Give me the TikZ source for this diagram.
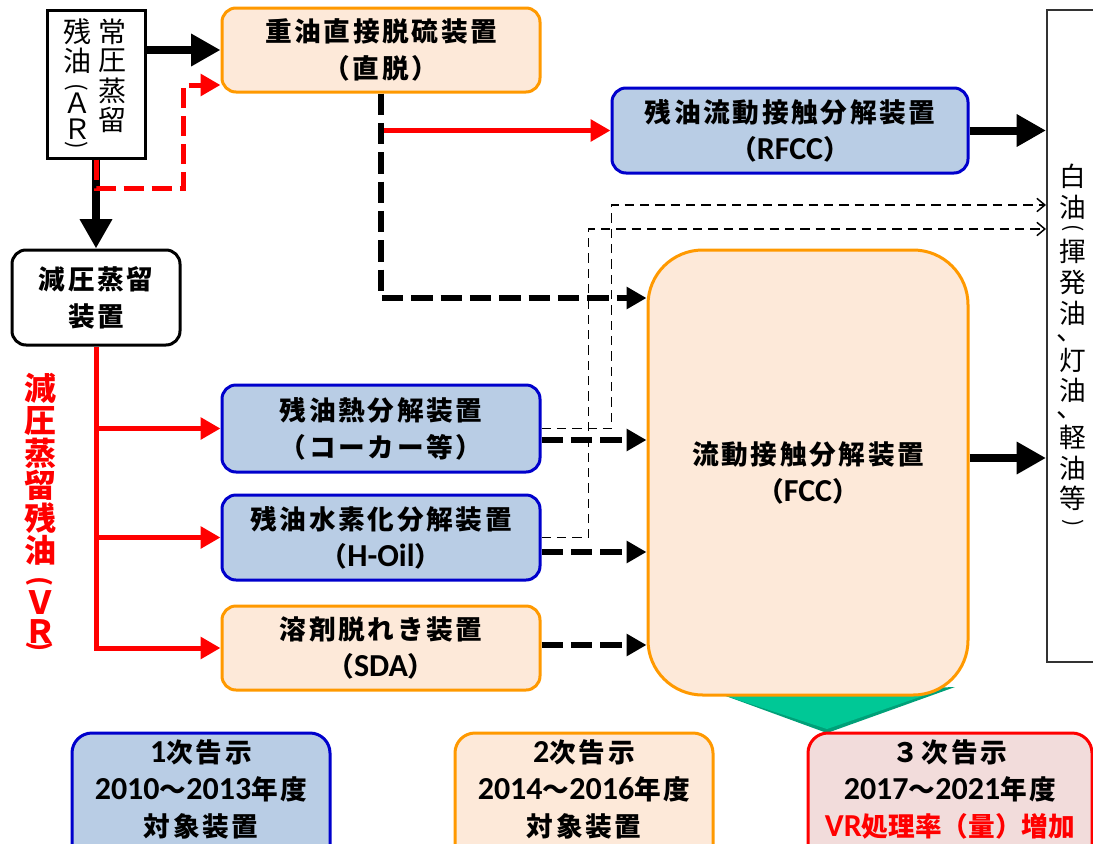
\documentclass[tikz,border=0pt]{standalone}
\usepackage{fontspec}
\setmainfont{Noto Sans CJK JP}
\newfontfamily\jpb{Noto Sans CJK JP}[LetterSpace=10]
\newfontfamily\jpr{Noto Sans CJK JP}
\newfontfamily\lat{Carlito}
\newcommand\Lt[1]{{\lat\fontsize{24}{27.75}\selectfont #1}}
\usetikzlibrary{arrows.meta}
\definecolor{peach}{HTML}{FDE9D9}
\definecolor{orng}{HTML}{FF9900}
\definecolor{bluef}{HTML}{B9CDE5}
\definecolor{blueb}{HTML}{0000CC}
\definecolor{pinkf}{HTML}{F2DCDB}
\definecolor{grn}{HTML}{00C896}
\definecolor{grnd}{HTML}{00A078}
\tikzset{
  unit/.style={draw, line width=2.25pt, rounded corners=10.5pt, align=center, inner sep=0pt,
    font=\jpb\bfseries\fontsize{20}{27.75}\selectfont},
  bluebox/.style={unit, draw=blueb, fill=bluef},
  peachbox/.style={unit, draw=orng, fill=peach},
  legtext/.style={align=center, inner sep=0pt, font=\jpb\bfseries\fontsize{20}{27.75}\selectfont},
  vt/.style={inner sep=0pt, font=\jpr\fontsize{21}{21}\selectfont},
  vtp/.style={inner sep=0pt, rotate=-90, font=\jpr\fontsize{17}{17}\selectfont},
  vtred/.style={inner sep=0pt, text=red, font=\jpr\bfseries\fontsize{24}{24}\selectfont},
  vtredp/.style={inner sep=0pt, rotate=-90, text=red, font=\jpr\bfseries\fontsize{19}{19}\selectfont},
  vtwo/.style={inner sep=0pt, font=\jpr\fontsize{20}{20}\selectfont},
  vtwop/.style={inner sep=0pt, rotate=-90, font=\jpr\fontsize{16}{16}\selectfont},
  blk/.style={line width=6pt, -{Triangle[length=22pt,width=23pt]}},
  redarr/.style={draw=red, line width=3.75pt, -{Triangle[length=15pt,width=16pt]}},
  reddash/.style={draw=red, line width=3.75pt, dash pattern=on 15pt off 6pt, -{Triangle[length=15pt,width=16pt]}},
  bdash/.style={line width=5pt, dash pattern=on 16pt off 6pt, -{Triangle[length=15pt,width=16pt]}},
  tdash/.style={line width=1.1pt, dash pattern=on 7pt off 4.5pt, -{Straight Barb[length=6pt,width=10pt]}}
}
\begin{document}
\begin{tikzpicture}[x=0.75pt,y=-0.75pt]
\useasboundingbox (0,0) rectangle (1093,843);
\clip (0,0) rectangle (1093,843);

% green chevron behind FCC
\fill[grnd] (723,695) -- (955,687) -- (827,733) -- cycle;
\fill[grn] (723,695) -- (940,690) -- (827,729) -- cycle;

% boxes
\node[draw, line width=2.25pt, fill=white, minimum width=73.5pt, minimum height=111pt] (AR) at (96,84) {};
\node[peachbox, minimum width=238.5pt, minimum height=63pt] (CD) at (381,50) {重油直接脱硫装置\\（直脱）};
\node[bluebox, minimum width=267pt, minimum height=63.75pt] (RF) at (790,130.5) {残油流動接触分解装置\\（\Lt{RFCC}）};
\node[unit, fill=white, minimum width=126pt, minimum height=71.25pt] (GA) at (96,297.5) {減圧蒸留\\装置};
\node[bluebox, minimum width=238.5pt, minimum height=65.25pt] (CK) at (381,428.5) {残油熱分解装置\\（コーカー等）};
\node[bluebox, minimum width=238.5pt, minimum height=63.75pt] (HO) at (381,537.5) {残油水素化分解装置\\（\Lt{H-Oil}）};
\node[peachbox, minimum width=238.5pt, minimum height=63pt] (SD) at (381,648) {溶剤脱れき装置\\（\Lt{SDA}）};
\node[peachbox, rounded corners=41pt, minimum width=240pt, minimum height=333.75pt] (FC) at (808,472.5) {流動接触分解装置\\（\Lt{FCC}）};
\node[draw=black!80, line width=1.5pt, fill=white, minimum width=54.75pt, minimum height=489pt] (WO) at (1083.5,336) {};

% legend boxes
\node[bluebox, rounded corners=15pt, minimum width=193.5pt, minimum height=102.75pt] (L1) at (201,801.5) {};
\node[peachbox, rounded corners=15pt, minimum width=193.5pt, minimum height=102.75pt] (L2) at (584,801.5) {};
\node[unit, draw=red, fill=pinkf, rounded corners=15pt, minimum width=213pt, minimum height=102.75pt] (L3) at (950,801.5) {};
\node[legtext] (L1t) at (201,789) {\Lt{1}次告示\\\Lt{2010}〜\Lt{2013}年度\\対象装置};
\node[legtext] (L2t) at (584,789) {\Lt{2}次告示\\\Lt{2014}〜\Lt{2016}年度\\対象装置};
\node[legtext] (L3t) at (950,789) {３次告示\\\Lt{2017}〜\Lt{2021}年度\\\textcolor{red}{\jpr\bfseries\Lt{VR}処理率（量）増加}};

% vertical texts
\foreach \c/\y [count=\i] in {常/32,圧/61,蒸/91,留/120}
  \node[vt] (arR\i) at (112,\y) {\c};
\foreach \c/\y [count=\i] in {残/32,油/61,Ａ/103,Ｒ/129}
  \node[vt] (arL\i) at (77,\y) {\c};
\node[vtp] (arLo) at (77,87) {(};
\node[vtp] (arLc) at (77,145) {)};

\foreach \c/\y [count=\i] in {減/388,圧/421,蒸/453,留/485,残/518,油/550,Ｖ/603,Ｒ/632}
  \node[vtred] (vr\i) at (40,\y) {\c};
\node[vtredp] (vro) at (40,582) {(};
\node[vtredp] (vrc) at (40,647) {)};

\foreach \c/\y [count=\i] in {白/176,油/207,揮/251,発/282,油/313,灯/360,油/390,軽/437,油/468,等/498}
  \node[vtwo] (wo\i) at (1073,\y) {\c};
\node[vtwo] (woc1) at (1070,338) {、};
\node[vtwo] (woc2) at (1070,415) {、};
\node[vtwop] (woo) at (1073,228) {(};
\node[vtwop] (woe) at (1073,523) {)};

% helper coordinates
\coordinate (cR1) at (183,188);
\path (FC.west) ++(0,-174.5) coordinate (f1);
\path (FC.east) ++(0,-14.5) coordinate (f2);
\path (CK.east) ++(0,11.5) coordinate (c1);
\path (HO.east) ++(0,14.5) coordinate (h1);
\path (SD.east) ++(0,-3) coordinate (s1);
\path (WO.west) ++(0,-131) coordinate (w1);
\path (WO.west) ++(0,-107) coordinate (w2);

% connectors
\draw[blk] (AR.east |- CD.west) -- (CD.west);
\draw[blk] (AR.south) -- (GA.north);
\draw[reddash] (AR.south) |- (cR1) |- ([yshift=-26.25pt]CD.west);

\draw[redarr] (GA.south) |- (SD.west);
\draw[redarr] (GA.south |- CK.west) -- (CK.west);
\draw[redarr] (GA.south |- HO.west) -- (HO.west);

\draw[redarr] (CD.south |- RF.west) -- (RF.west);
\draw[bdash] (CD.south) |- (f1);

\draw[blk] (RF.east) -- (RF.east -| WO.west);
\draw[blk] (f2) -- (f2 -| WO.west);

\draw[bdash] (c1) -- (c1 -| FC.west);
\draw[bdash] (h1) -- (h1 -| FC.west);
\draw[bdash] (s1) -- (s1 -| FC.west);

\draw[tdash] (CK.east) -- ++(70,0) |- (w1);
\draw[tdash] (HO.east) -- ++(47,0) |- (w2);
\end{tikzpicture}
\end{document}
